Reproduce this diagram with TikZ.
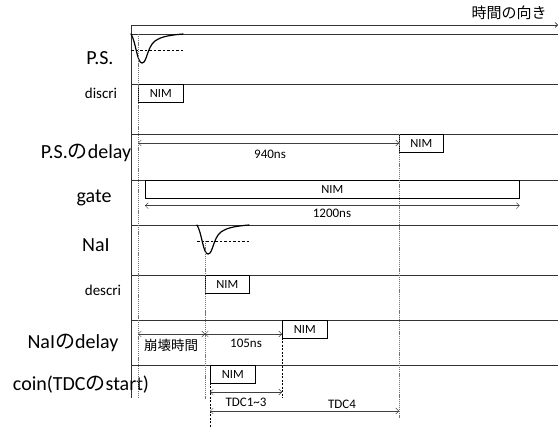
\documentclass[tikz,border=0pt]{standalone}
\usepackage{fontspec}
\setmainfont{Carlito}
\newfontfamily\jp{Noto Sans CJK JP}
\usepackage{tikz}
\usetikzlibrary{arrows.meta}

\begin{document}
\begin{tikzpicture}[x=1pt, y=-1pt,
  rowlabel/.style={font=\fontsize{20}{22}\selectfont, inner sep=0pt},
  sublabel/.style={font=\fontsize{15}{17}\selectfont, inner sep=0pt},
  nim/.style={draw, line width=0.7pt, anchor=north west, inner sep=0pt,
    minimum height=18pt, font=\fontsize{12.5}{14}\selectfont},
  dim/.style={{Straight Barb[length=3pt,width=6pt]}-{Straight Barb[length=3pt,width=6pt]},
    line width=0.4pt, draw=black!75},
  dimtext/.style={font=\fontsize{13}{15}\selectfont, inner sep=0pt},
  rowline/.style={line width=0.6pt, draw=black!80},
  pulse/.style={line width=1.2pt, line cap=round},
  thresh/.style={dash pattern=on 2.5pt off 2pt, line width=0.6pt},
  marker/.style={dash pattern=on 1.2pt off 0.9pt, line width=0.9pt, draw=black!55},
  edge/.style={dash pattern=on 2pt off 1.5pt, line width=0.5pt}]
  \useasboundingbox (0,0) rectangle (558,428);

  % time axis and row frame
  \coordinate (axis0) at (131,25);
  \coordinate (axis1) at (558,25);
  \draw[rowline, -{Straight Barb[length=2.5pt,width=5pt]}] (axis0) -- (axis1);
  \node[font=\jp\fontsize{15}{17}\selectfont, inner sep=0pt] (timetext) at (509,13) {時間の向き};
  \draw[rowline] (axis0) -- (131,398);
  \foreach \y in {34,84,134,180,225,275,320,365}
    \draw[rowline] (131,\y) -- (558,\y);

  % row labels
  \node[rowlabel] (ps) at (100,58) {P.S.};
  \node[sublabel] (psdisc) at (101,93) {discri};
  \node[rowlabel] (psdelay) at (86,153) {P.S.{\jp の}delay};
  \node[rowlabel] (gate) at (94,198) {gate};
  \node[rowlabel] (nai) at (96,245) {NaI};
  \node[sublabel] (naidisc) at (103,290) {descri};
  \node[rowlabel] (naidelay) at (73,343) {NaI{\jp の}delay};
  \node[rowlabel] (coin) at (81,385) {coin(TDC{\jp の}start)};

  % pulses
  \draw[pulse] (131,34) .. controls (136,42) and (137,63) .. (142,63)
    .. controls (147,63) and (147,47) .. (155,41)
    .. controls (162,36) and (172,35) .. (183,34);
  \draw[thresh] (131,50) -- (183,50);
  \begin{scope}[shift={(66,191)}]
    \draw[pulse] (131,34) .. controls (136,42) and (137,63) .. (142,63)
      .. controls (147,63) and (147,47) .. (155,41)
      .. controls (162,36) and (172,35) .. (183,34);
    \draw[thresh] (131,50) -- (183,50);
  \end{scope}

  % NIM signals
  \node[nim, minimum width=45pt] (psnim) at (138,84) {NIM};
  \node[nim, minimum width=44pt] (psdelnim) at (399,134) {NIM};
  \node[nim, minimum width=374pt] (gatenim) at (145,180) {NIM};
  \node[nim, minimum width=44pt] (nainim) at (205,275) {NIM};
  \node[nim, minimum width=45pt] (naidelnim) at (282,320) {NIM};
  \node[nim, minimum width=45pt] (coinnim) at (210,365) {NIM};

  % timing markers
  \draw[marker] (psnim.north west |- 0,34) -- (psnim.north west |- 0,399);
  \draw[marker] (nainim.north west |- 0,241) -- (nainim.north west |- 0,399);
  \draw[marker] (psdelnim.north west) -- (psdelnim.north west |- 0,418);
  \draw[edge] (coinnim.north west) -- (coinnim.north west |- 0,428);
  \draw[edge] (naidelnim.north west) -- (naidelnim.north west |- 0,398);

  % intervals
  \coordinate (psfire) at (138,143);
  \draw[dim] (psfire) -- (psfire -| psdelnim.west);
  \node[dimtext] (pslen) at (270,154) {940ns};
  \draw[dim] ([yshift=-7pt]gatenim.south west) -- ([yshift=-7pt]gatenim.south east);
  \node[dimtext] (gatelen) at (332,213) {1200ns};
  \coordinate (decay0) at (138,334);
  \coordinate (decay1) at (205,334);
  \draw[dim] (decay0) -- (decay1);
  \draw[dim] (decay1) -- (decay1 -| naidelnim.west);
  \node[dimtext, font=\jp\fontsize{13.5}{15}\selectfont] (decaylen) at (171,345) {崩壊時間};
  \node[dimtext] (nailen) at (246,343) {105ns};
  \coordinate (start0) at (210,392);
  \draw[dim] (start0) -- (start0 -| naidelnim.west);
  \node[dimtext] (tdcshort) at (246,402) {TDC1\textasciitilde 3};
  \coordinate (start1) at (210,411);
  \draw[dim] (start1) -- (start1 -| psdelnim.west);
  \node[dimtext] (tdclong) at (342,404) {TDC4};
\end{tikzpicture}
\end{document}
